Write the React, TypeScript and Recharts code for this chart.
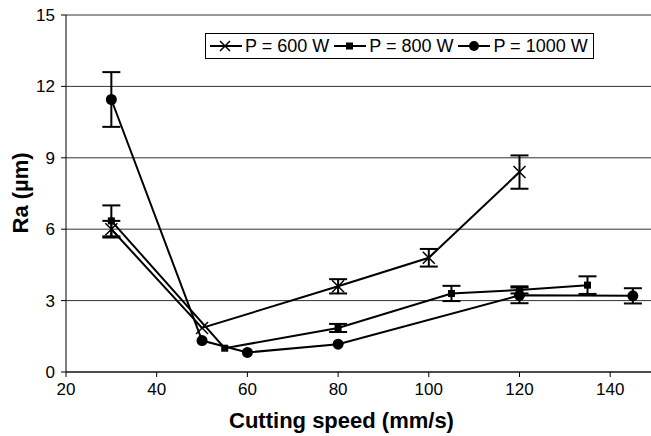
import { LineChart, Line, XAxis, YAxis, CartesianGrid, ErrorBar, Legend } from 'recharts';

const FONT = '"Liberation Sans", Arial, sans-serif';

// cutting speed (mm/s), Ra (µm), error (µm)
const speed600 = [30, 50, 80, 100, 120];
const ra600 = [6.0, 1.85, 3.6, 4.8, 8.4];
const err600: (number | null)[] = [0.35, null, 0.3, 0.37, 0.7];

const speed800 = [30, 55, 80, 105, 120, 135];
const ra800 = [6.35, 1.0, 1.85, 3.3, 3.45, 3.65];
const err800: (number | null)[] = [0.65, null, 0.17, 0.32, 0.15, 0.37];

const speed1000 = [30, 50, 60, 80, 120, 145];
const ra1000 = [11.45, 1.32, 0.82, 1.17, 3.22, 3.2];
const err1000: (number | null)[] = [1.15, null, null, null, 0.33, 0.32];

const xTicks = [20, 40, 60, 80, 100, 120, 140];
const yTicks = [0, 3, 6, 9, 12, 15];

const seriesNames = ['P = 600 W', 'P = 800 W', 'P = 1000 W'];

const build = (xs: number[], ys: number[], es: (number | null)[]) =>
  xs.map((x, i) => ({ x, y: ys[i], err: es[i] }));

const data600 = build(speed600, ra600, err600);
const data800 = build(speed800, ra800, err800);
const data1000 = build(speed1000, ra1000, err1000);

const CrossDot = (props: any) => {
  const { cx, cy, index } = props;
  if (cx == null || cy == null) return <g key={`c-${index}`} />;
  const s = 6;
  return (
    <path
      key={`c-${index}`}
      d={`M${cx - s},${cy - s}L${cx + s},${cy + s}M${cx - s},${cy + s}L${cx + s},${cy - s}`}
      stroke="#000"
      strokeWidth={1.5}
      fill="none"
    />
  );
};

const SquareDot = (props: any) => {
  const { cx, cy, index } = props;
  if (cx == null || cy == null) return <g key={`s-${index}`} />;
  return <rect key={`s-${index}`} x={cx - 3.5} y={cy - 3.5} width={7} height={7} fill="#000" />;
};

const CircleDot = (props: any) => {
  const { cx, cy, index } = props;
  if (cx == null || cy == null) return <g key={`o-${index}`} />;
  return <circle key={`o-${index}`} cx={cx} cy={cy} r={5.5} fill="#000" />;
};

const LegendIcon = ({ kind }: { kind: number }) => (
  <svg width={34} height={16} style={{ display: 'block' }}>
    <line x1={1} y1={8} x2={33} y2={8} stroke="#000" strokeWidth={2} />
    {kind === 0 && (
      <path d="M11,3L21,13M11,13L21,3" stroke="#000" strokeWidth={1.5} />
    )}
    {kind === 1 && <rect x={13} y={4.5} width={7} height={7} fill="#000" />}
    {kind === 2 && <circle cx={17} cy={8} r={5} fill="#000" />}
  </svg>
);

const renderLegend = () => (
  <div
    style={{
      display: 'inline-flex',
      alignItems: 'center',
      border: '1px solid #000',
      background: '#fff',
      padding: '2px 5px 2px 3px',
      fontFamily: FONT,
      fontSize: 18,
      whiteSpace: 'nowrap',
      lineHeight: '20px',
    }}
  >
    {seriesNames.map((name, i) => (
      <div key={name} style={{ display: 'flex', alignItems: 'center', marginRight: i < 2 ? 4 : 0 }}>
        <LegendIcon kind={i} />
        <span style={{ marginLeft: 2 }}>{name}</span>
      </div>
    ))}
  </div>
);

export default function App() {
  return (
    <div style={{ position: 'absolute', left: 0, top: 0, background: '#fff' }}>
      <LineChart width={651} height={436} margin={{ top: 15, right: 0, bottom: 0, left: 0 }}>
        <CartesianGrid horizontal vertical={false} stroke="#333" strokeWidth={1} />
        <XAxis
          type="number"
          dataKey="x"
          domain={[20, 149]}
          ticks={xTicks}
          allowDataOverflow
          height={64}
          tickSize={5}
          tickMargin={6}
          stroke="#000"
          tick={{ fill: '#000', fontSize: 17, fontFamily: FONT }}
          label={{
            value: 'Cutting speed (mm/s)',
            position: 'insideBottom',
            offset: 8,
            dx: -17,
            fill: '#000',
            fontSize: 22,
            fontWeight: 'bold',
            fontFamily: FONT,
          }}
        />
        <YAxis
          type="number"
          domain={[0, 15]}
          ticks={yTicks}
          width={66}
          tickSize={5}
          tickMargin={6}
          stroke="#000"
          tick={{ fill: '#000', fontSize: 17, fontFamily: FONT }}
          label={{
            value: 'Ra (µm)',
            angle: -90,
            position: 'insideLeft',
            offset: 20,
            dy: 40,
            fill: '#000',
            fontSize: 22,
            fontWeight: 'bold',
            fontFamily: FONT,
          }}
        />
        <Legend
          layout="horizontal"
          verticalAlign="middle"
          align="center"
          content={renderLegend}
          wrapperStyle={{ top: 33, left: 205, width: 'auto', height: 'auto' }}
        />
        <Line
          data={data600}
          dataKey="y"
          name={seriesNames[0]}
          stroke="#000"
          strokeWidth={2}
          dot={CrossDot}
          activeDot={false}
          isAnimationActive={false}
        >
          <ErrorBar dataKey="err" direction="y" width={9} stroke="#000" strokeWidth={2} />
        </Line>
        <Line
          data={data800}
          dataKey="y"
          name={seriesNames[1]}
          stroke="#000"
          strokeWidth={2}
          dot={SquareDot}
          activeDot={false}
          isAnimationActive={false}
        >
          <ErrorBar dataKey="err" direction="y" width={9} stroke="#000" strokeWidth={2} />
        </Line>
        <Line
          data={data1000}
          dataKey="y"
          name={seriesNames[2]}
          stroke="#000"
          strokeWidth={2}
          dot={CircleDot}
          activeDot={false}
          isAnimationActive={false}
        >
          <ErrorBar dataKey="err" direction="y" width={9} stroke="#000" strokeWidth={2} />
        </Line>
      </LineChart>
    </div>
  );
}
